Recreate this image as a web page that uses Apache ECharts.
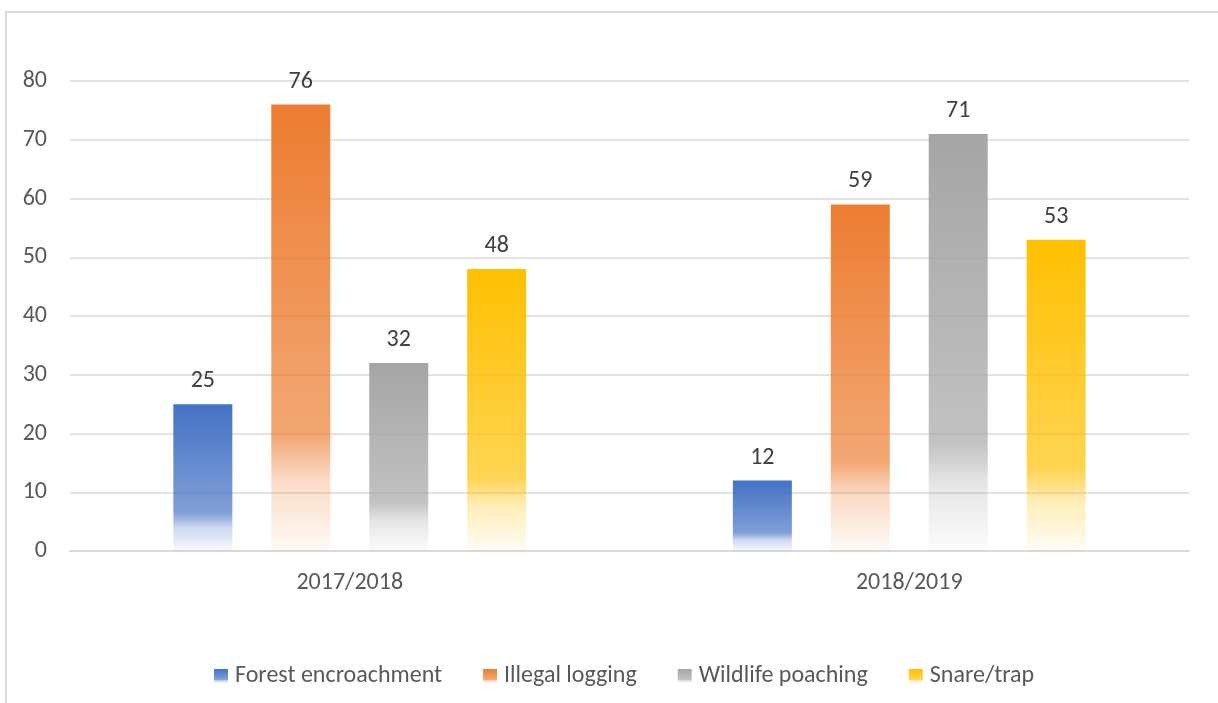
<!DOCTYPE html>
<html><head><meta charset="utf-8">
<script src="https://cdn.jsdelivr.net/npm/echarts@6/dist/echarts.min.js"></script>
<style>
html,body{margin:0;padding:0;background:#fff;}
#frame{position:absolute;left:5px;top:11px;width:1240px;height:720px;border-top:2px solid #d9d9d9;border-left:2px solid #d9d9d9;box-sizing:border-box;}
#c{position:absolute;left:0;top:0;width:1218px;height:703px;}
</style></head>
<body>
<div id="frame"></div>
<div id="c"></div>
<script>
const categories = ['2017/2018', '2018/2019'];
const seriesNames = ['Forest encroachment', 'Illegal logging', 'Wildlife poaching', 'Snare/trap'];
const forestEncroachment = [25, 12];
const illegalLogging = [76, 59];
const wildlifePoaching = [32, 71];
const snareTrap = [48, 53];
const colors = [[68,114,196],[237,125,49],[165,165,165],[255,192,0]];

function grad(rgb){
  const c = a => 'rgba(' + rgb.join(',') + ',' + a + ')';
  return new echarts.graphic.LinearGradient(0,0,0,1,[
    {offset:0, color:c(1)},
    {offset:0.74, color:c(0.68)},
    {offset:0.84, color:c(0.28)},
    {offset:1, color:c(0.04)}
  ]);
}
const values = [forestEncroachment, illegalLogging, wildlifePoaching, snareTrap];
const font = 'Carlito, "Liberation Sans Narrow", "Open Sans", sans-serif';
const chart = echarts.init(document.getElementById('c'));
chart.setOption({
  animation:false,
  textStyle:{fontFamily:font},
  grid:{left:70, right:29, top:81, bottom:152, containLabel:false},
  legend:{
    top:659, left:209, itemWidth:14, itemHeight:14, itemGap:41, icon:'rect',
    textStyle:{fontSize:24, color:'#595959', fontFamily:font, padding:[0,0,0,2]},
    data:seriesNames
  },
  xAxis:{
    type:'category', data:categories,
    axisLine:{lineStyle:{color:'#d9d9d9', width:2}},
    axisTick:{show:false},
    axisLabel:{fontSize:24, color:'#595959', margin:20, fontFamily:font}
  },
  yAxis:{
    type:'value', min:0, max:80, interval:10,
    axisLine:{show:false}, axisTick:{show:false},
    splitLine:{lineStyle:{color:'#e3e3e3', width:2}},
    axisLabel:{fontSize:24, color:'#595959', margin:23, fontFamily:font}
  },
  series: seriesNames.map((n,i)=>({
    name:n, type:'bar', data:values[i], barWidth:59, barGap:'66%',
    itemStyle:{color:grad(colors[i])},
    label:{show:true, position:'top', distance:11, fontSize:24, color:'#404040', fontFamily:font}
  }))
});
</script>
</body></html>
